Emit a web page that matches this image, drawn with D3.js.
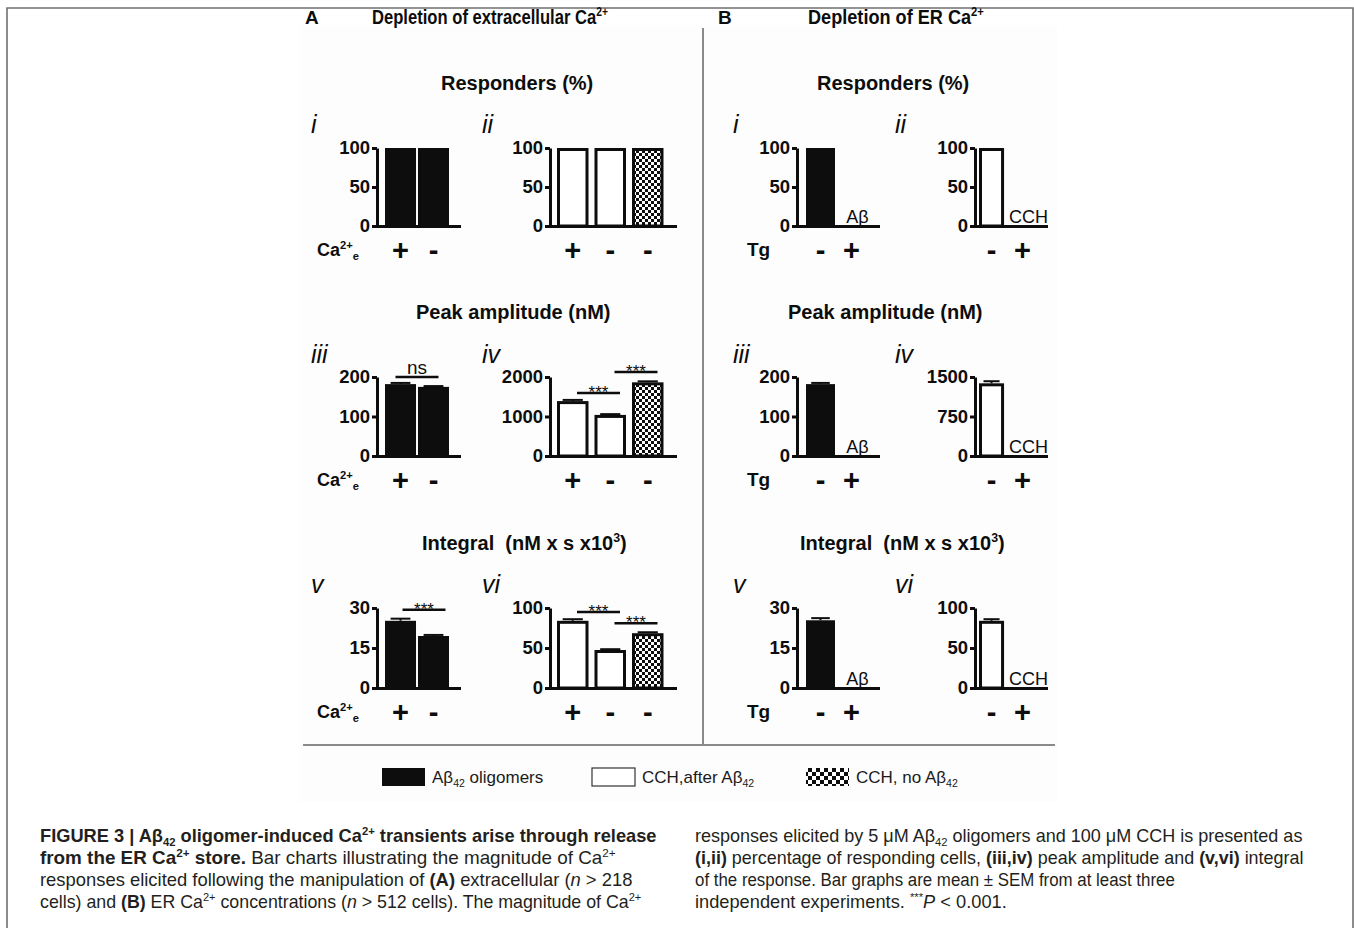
<!DOCTYPE html>
<html>
<head>
<meta charset="utf-8">
<script src="https://cdn.jsdelivr.net/npm/d3@7"></script>
<style>
  body { margin: 0; background: #fff; }
  svg { display: block; font-family: "Liberation Sans", Arial, Helvetica, sans-serif; }
</style>
</head>
<body>
<svg id="fig" width="1354" height="928"></svg>
<script>
// ---- data ----
const panelLabels = [["i", "ii"], ["iii", "iv"], ["v", "vi"]];
const seriesNames = ["oligomers", "CCH,after Aβ", "CCH, no Aβ"];

// A: depletion of extracellular Ca2+
const aLeftSigns = ["+", "-"];
const aLeftValues = [[100, 100], [182, 175], [25.2, 19.5]];
const aLeftErrors = [[0, 0], [3, 2], [0.8, 0.4]];
const aLeftTicks = [[0, 50, 100], [0, 100, 200], [0, 15, 30]];

const aRightSigns = ["+", "-", "-"];
const aRightKinds = ["open", "open", "check"];
const aRightValues = [[100, 100, 100], [1390, 1040, 1865], [84, 47.5, 68.5]];
const aRightErrors = [[0, 0, 0], [30, 20, 25], [2, 1, 1.2]];
const aRightTicks = [[0, 50, 100], [0, 1000, 2000], [0, 50, 100]];

// B: depletion of ER Ca2+
const bSigns = ["-", "+"];
const bLeftValues = [[100, 0], [182, 0], [25.4, 0]];
const bLeftErrors = [[0, 0], [3, 0], [0.8, 0]];
const bLeftTicks = [[0, 50, 100], [0, 100, 200], [0, 15, 30]];
const bRightValues = [[100, 0], [1380, 0], [84, 0]];
const bRightErrors = [[0, 0], [40, 0], [2, 0]];
const bRightTicks = [[0, 50, 100], [0, 750, 1500], [0, 50, 100]];

// significance bars in panel A: row, panel, from bar, to bar, height (data units), label
const sigA = [
  [1, 0, 0, 1, 200, "ns"],
  [1, 1, 0, 1, 1595, "***"],
  [1, 1, 1, 2, 2127, "***"],
  [2, 0, 0, 1, 29.3, "***"],
  [2, 1, 0, 1, 95, "***"],
  [2, 1, 1, 2, 81, "***"]
];

// ---- layout ----
const INK = "#0d0d0d";
const svg = d3.select("#fig");
const rows = [{ top: 148, bottom: 226 }, { top: 377, bottom: 456 }, { top: 608, bottom: 688 }];

const defs = svg.append("defs");
function checker(id, s) {
  const p = defs.append("pattern").attr("id", id).attr("width", 2 * s).attr("height", 2 * s)
    .attr("patternUnits", "userSpaceOnUse");
  p.append("rect").attr("width", 2 * s).attr("height", 2 * s).attr("fill", "#fff");
  p.append("rect").attr("width", s).attr("height", s).attr("fill", INK);
  p.append("rect").attr("x", s).attr("y", s).attr("width", s).attr("height", s).attr("fill", INK);
}
checker("check", 3);
checker("check2", 4);

// rich text: segments {t, b, i, sup, sub}
function rich(sel, segs, size) {
  let shift = 0;
  segs.forEach(s => {
    const o = typeof s === "string" ? { t: s } : s;
    let target = 0, fs = size;
    if (o.sup) { target = -size * 0.4; fs = size * 0.62; }
    if (o.sub) { target = size * 0.22; fs = size * 0.62; }
    sel.append("tspan")
      .attr("dy", target - shift)
      .attr("font-size", fs)
      .attr("font-weight", o.b ? "bold" : "normal")
      .attr("font-style", o.i ? "italic" : "normal")
      .text(o.t);
    shift = target;
  });
  return sel;
}
function fitWidth(sel, x, y, w) {
  const len = sel.node().getComputedTextLength();
  sel.attr("transform", `translate(${x},${y}) scale(${w / len},1)`);
}

// frame + figure background
svg.append("rect").attr("x", 300).attr("y", 25).attr("width", 757).attr("height", 777).attr("fill", "#fdfdfd");
svg.append("path").attr("d", "M7,928V8H1353V928").attr("fill", "none").attr("stroke", "#707070").attr("stroke-width", 1.6);
svg.append("line").attr("x1", 703).attr("x2", 703).attr("y1", 28).attr("y2", 745)
  .attr("stroke", "#8a8a8a").attr("stroke-width", 2);
svg.append("line").attr("x1", 303).attr("x2", 1055).attr("y1", 745).attr("y2", 745)
  .attr("stroke", "#8a8a8a").attr("stroke-width", 2);

// headers
function header(letter, lx, segs, tx, w) {
  svg.append("text").attr("x", lx).attr("y", 24).attr("font-size", 19).attr("font-weight", "bold")
    .attr("fill", INK).text(letter);
  const t = rich(svg.append("text").attr("fill", INK), segs, 20);
  fitWidth(t, tx, 24, w);
}
header("A", 305, [{ t: "Depletion of extracellular Ca", b: 1 }, { t: "2+", b: 1, sup: 1 }], 372, 236);
header("B", 718, [{ t: "Depletion of ER Ca", b: 1 }, { t: "2+", b: 1, sup: 1 }], 808, 176);

// row titles
const titleSegs = [
  [{ t: "Responders (%)", b: 1 }],
  [{ t: "Peak amplitude (nM)", b: 1 }],
  [{ t: "Integral  (nM x s x10", b: 1 }, { t: "3", b: 1, sup: 1 }, { t: ")", b: 1 }]
];
const titleY = [90, 319, 550];
const titleXA = [441, 416, 422], titleXB = [817, 788, 800];
titleSegs.forEach((segs, r) => {
  rich(svg.append("text").attr("x", titleXA[r]).attr("y", titleY[r]).attr("fill", INK).attr("xml:space", "preserve"), segs, 20);
  rich(svg.append("text").attr("x", titleXB[r]).attr("y", titleY[r]).attr("fill", INK).attr("xml:space", "preserve"), segs, 20);
});

// one bar panel
function drawPanel(cfg) {
  const y = d3.scaleLinear().domain([0, d3.max(cfg.ticks)]).range([cfg.bottom, cfg.top]);
  const x = d3.scaleBand().domain(d3.range(cfg.values.length)).range(cfg.band)
    .paddingInner(cfg.pad).paddingOuter(0);
  const g = svg.append("g");
  const bw = x.bandwidth();

  cfg.values.forEach((v, i) => {
    const cx = x(i) + bw / 2;
    if (v > 0) {
      const kind = cfg.kinds[i];
      if (kind === "black") {
        g.append("rect").attr("x", x(i)).attr("y", y(v)).attr("width", bw)
          .attr("height", y(0) - y(v)).attr("fill", INK);
      } else {
        g.append("rect").attr("x", x(i) + 1.5).attr("y", y(v) + 1.5).attr("width", bw - 3)
          .attr("height", y(0) - y(v) - 1.5)
          .attr("fill", kind === "check" ? "url(#check)" : "#fff")
          .attr("stroke", INK).attr("stroke-width", 3);
      }
      const e = cfg.errors[i];
      if (e > 0) {
        g.append("line").attr("x1", cx).attr("x2", cx).attr("y1", y(v)).attr("y2", y(v + e))
          .attr("stroke", INK).attr("stroke-width", 2);
        g.append("line").attr("x1", cx - bw * 0.32).attr("x2", cx + bw * 0.32)
          .attr("y1", y(v + e)).attr("y2", y(v + e)).attr("stroke", INK).attr("stroke-width", 2);
      }
    } else if (cfg.emptyLabel) {
      g.append("text").attr("x", cx + 6).attr("y", cfg.bottom - 3).attr("text-anchor", "middle")
        .attr("font-size", 18).attr("fill", INK).text(cfg.emptyLabel);
    }
    g.append("text").attr("x", cx).attr("y", cfg.bottom + 24).attr("text-anchor", "middle")
      .attr("dominant-baseline", "central").attr("font-size", 29).attr("font-weight", "bold")
      .attr("fill", INK).text(cfg.signs[i]);
  });

  const ax = g.append("g").attr("transform", `translate(${cfg.axisX},0)`)
    .call(d3.axisLeft(y).tickValues(cfg.ticks).tickFormat(d3.format("d"))
      .tickSize(5).tickSizeOuter(0).tickPadding(2));
  ax.select(".domain").attr("stroke", INK).attr("stroke-width", 3);
  ax.selectAll(".tick line").attr("stroke", INK).attr("stroke-width", 3);
  ax.selectAll(".tick text").attr("font-size", 18.5).attr("font-weight", "bold")
    .attr("font-family", null).attr("fill", INK);
  g.append("line").attr("x1", cfg.axisX - 1).attr("x2", cfg.end).attr("y1", y(0) + 0.5).attr("y2", y(0) + 0.5)
    .attr("stroke", INK).attr("stroke-width", 3);
  return { x, y };
}

const colA = [
  { axisX: 377, band: [385, 449], pad: 0.06, end: 461 },
  { axisX: 550, band: [557, 663.5], pad: 0.16, end: 677 }
];
const colB = [
  { axisX: 797, band: [806, 866], pad: 0.065, end: 880 },
  { axisX: 975, band: [979, 1035], pad: 0.19, end: 1048 }
];
const romanX = [[311, 482], [733, 895]];
const romanY = [133, 363, 593];

rows.forEach((row, r) => {
  const pA = [
    drawPanel(Object.assign({}, colA[0], row, { ticks: aLeftTicks[r], values: aLeftValues[r],
      errors: aLeftErrors[r], kinds: ["black", "black"], signs: aLeftSigns })),
    drawPanel(Object.assign({}, colA[1], row, { ticks: aRightTicks[r], values: aRightValues[r],
      errors: aRightErrors[r], kinds: aRightKinds, signs: aRightSigns }))
  ];
  drawPanel(Object.assign({}, colB[0], row, { ticks: bLeftTicks[r], values: bLeftValues[r],
    errors: bLeftErrors[r], kinds: ["black", "black"], signs: bSigns, emptyLabel: "Aβ" }));
  drawPanel(Object.assign({}, colB[1], row, { ticks: bRightTicks[r], values: bRightValues[r],
    errors: bRightErrors[r], kinds: ["open", "open"], signs: bSigns, emptyLabel: "CCH" }));

  // significance
  sigA.filter(s => s[0] === r).forEach(([, p, i, j, h, lab]) => {
    const { x, y } = pA[p];
    const mid = (x(i) + x(j)) / 2 + x.bandwidth() / 2 + (lab === "ns" ? 0 : 7);
    svg.append("line").attr("x1", mid - 21.5).attr("x2", mid + 21.5).attr("y1", y(h)).attr("y2", y(h))
      .attr("stroke", INK).attr("stroke-width", 2.5);
    svg.append("text").attr("x", mid).attr("y", lab === "ns" ? y(h) - 3 : y(h) + 5)
      .attr("text-anchor", "middle").attr("font-size", lab === "ns" ? 19 : 17).attr("fill", INK).text(lab);
  });

  // roman numerals
  [0, 1].forEach(c => {
    [0, 1].forEach(k => {
      svg.append("text").attr("x", romanX[c][k]).attr("y", romanY[r]).attr("font-size", 25)
        .attr("font-style", "italic").attr("fill", INK).text(panelLabels[r][k]);
    });
  });

  // row condition labels
  const ly = row.bottom + 30;
  rich(svg.append("text").attr("x", 317).attr("y", ly).attr("fill", INK),
    [{ t: "Ca", b: 1 }, { t: "2+", b: 1, sup: 1 }, { t: "e", b: 1, sub: 1 }], 18);
  svg.append("text").attr("x", 747).attr("y", ly).attr("font-size", 19).attr("font-weight", "bold")
    .attr("fill", INK).text("Tg");
});

// legend
const legendX = [382, 592, 806];
const legendFill = [INK, "#fff", "url(#check2)"];
seriesNames.forEach((name, i) => {
  const g = svg.append("g");
  g.append("rect").attr("x", legendX[i]).attr("y", 768).attr("width", 43).attr("height", 18)
    .attr("fill", legendFill[i]).attr("stroke", i === 1 ? "#333" : "none").attr("stroke-width", 1.2);
  const segs = i === 0
    ? [{ t: "Aβ" }, { t: "42", sub: 1 }, { t: " " + name }]
    : [{ t: name }, { t: "42", sub: 1 }];
  rich(g.append("text").attr("x", legendX[i] + 50).attr("y", 783).attr("fill", "#1a1a1a")
    .attr("xml:space", "preserve"), segs, 17);
});

// caption
const capLeft = [
  [{ t: "FIGURE 3 | Aβ", b: 1 }, { t: "42", b: 1, sub: 1 }, { t: " oligomer-induced Ca", b: 1 }, { t: "2+", b: 1, sup: 1 },
    { t: " transients arise through release", b: 1 }],
  [{ t: "from the ER Ca", b: 1 }, { t: "2+", b: 1, sup: 1 }, { t: " store.", b: 1 },
    " Bar charts illustrating the magnitude of Ca", { t: "2+", sup: 1 }],
  ["responses elicited following the manipulation of ", { t: "(A)", b: 1 }, " extracellular (", { t: "n", i: 1 }, " > 218"],
  ["cells) and ", { t: "(B)", b: 1 }, " ER Ca", { t: "2+", sup: 1 }, " concentrations (", { t: "n", i: 1 },
    " > 512 cells). The magnitude of Ca", { t: "2+", sup: 1 }]
];
const capRight = [
  ["responses elicited by 5 μM Aβ", { t: "42", sub: 1 }, " oligomers and 100 μM CCH is presented as"],
  [{ t: "(i,ii)", b: 1 }, " percentage of responding cells, ", { t: "(iii,iv)", b: 1 }, " peak amplitude and ",
    { t: "(v,vi)", b: 1 }, " integral"],
  ["of the response. Bar graphs are mean ± SEM from at least three"],
  ["independent experiments. ", { t: "***", sup: 1 }, { t: "P", i: 1 }, " < 0.001."]
];
const capY = [842, 864, 886, 908];
const capLeftW = [617, 576, 593, 602];
const capRightW = [608, 609, 480, 312];
capLeft.forEach((segs, k) => {
  const t = rich(svg.append("text").attr("fill", "#231f20").attr("xml:space", "preserve"), segs, 18);
  fitWidth(t, 40, capY[k], capLeftW[k]);
});
capRight.forEach((segs, k) => {
  const t = rich(svg.append("text").attr("fill", "#231f20").attr("xml:space", "preserve"), segs, 18);
  fitWidth(t, 695, capY[k], capRightW[k]);
});
</script>
</body>
</html>
